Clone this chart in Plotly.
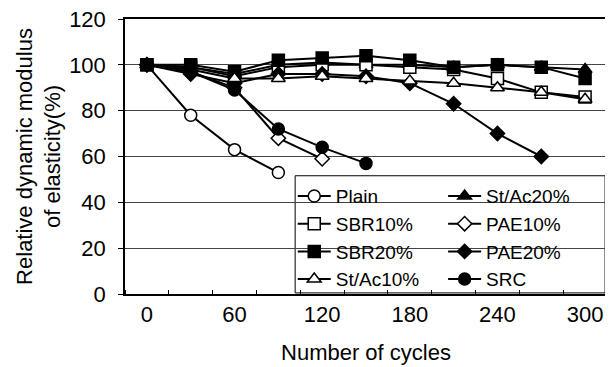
import plotly.graph_objects as go

cycles = [0, 30, 60, 90, 120, 150, 180, 210, 240, 270, 300]

plain = [100, 78, 63, 53]
st_ac20 = [100, 99, 96, 100, 101, 100, 100, 99, 100, 99, 98]
sbr10 = [100, 99, 95, 99, 100, 100, 99, 98, 94, 88, 86]
pae10 = [100, 97, 90, 68, 59]
sbr20 = [100, 100, 97, 102, 103, 104, 102, 99, 100, 99, 94]
pae20 = [100, 96, 92, 96, 96, 95, 92, 83, 70, 60]
st_ac10 = [100, 98, 94, 94, 95, 94, 93, 92, 90, 88, 85]
src = [100, 97, 89, 72, 64, 57]

# (name, values, symbol, fill, size, legend column)
series = [
    ("Plain", plain, "circle", "white", 12, "legend"),
    ("St/Ac20%", st_ac20, "triangle-up", "black", 12, "legend2"),
    ("SBR10%", sbr10, "square", "white", 12, "legend"),
    ("PAE10%", pae10, "diamond", "white", 11, "legend2"),
    ("SBR20%", sbr20, "square", "black", 12, "legend"),
    ("PAE20%", pae20, "diamond", "black", 11, "legend2"),
    ("St/Ac10%", st_ac10, "triangle-up", "white", 12, "legend"),
    ("SRC", src, "circle", "black", 12, "legend2"),
]

fig = go.Figure()
for name, vals, sym, fill, size, leg in series:
    fig.add_trace(go.Scatter(
        x=cycles[:len(vals)], y=vals, name=name, mode="lines+markers",
        line=dict(color="black", width=2), legend=leg,
        marker=dict(symbol=sym, color=fill, size=size,
                    line=dict(color="black", width=1.5)),
    ))

font = "Liberation Sans, Arial, sans-serif"
leg_common = dict(
    orientation="v", yanchor="top", y=0.425, xanchor="left",
    bgcolor="rgba(0,0,0,0)", borderwidth=0, font=dict(size=19),
    tracegroupgap=0, itemwidth=33,
)
# the page body adds an 8px margin, so the figure is 8px smaller than the window
fig.update_layout(
    width=605, height=359,
    margin=dict(l=117, r=6, t=11, b=73),
    paper_bgcolor="white", plot_bgcolor="white",
    font=dict(family=font, size=22, color="black"),
    showlegend=True,
    legend=dict(x=0.348, **leg_common),
    legend2=dict(x=0.66, **leg_common),
    shapes=[dict(type="rect", xref="paper", yref="paper",
                 x0=0.353, x1=0.996, y0=0.004, y1=0.43,
                 line=dict(color="black", width=1), fillcolor="white",
                 layer="between")],
    xaxis=dict(
        range=[-15, 315], tickvals=[0, 60, 120, 180, 240, 300],
        ticks="", showgrid=False, zeroline=False, automargin=False,
        showline=True, linecolor="black", linewidth=1.5, mirror=True,
        minor=dict(tick0=15, dtick=30, ticks="inside", ticklen=4,
                   tickcolor="black", showgrid=False),
        tickfont=dict(size=22), ticklabeloverflow="allow",
        title=dict(text="Number of cycles", font=dict(size=22), standoff=18),
    ),
    yaxis=dict(
        range=[0, 120], tickvals=[0, 20, 40, 60, 80, 100, 120],
        ticks="outside", ticklen=5, tickcolor="black", automargin=False,
        showgrid=True, gridcolor="#444", gridwidth=1, zeroline=False,
        showline=True, linecolor="black", linewidth=1.5, mirror=True,
        tickfont=dict(size=22), ticklabelstandoff=8,
        ticklabeloverflow="allow",
        title=dict(text="Relative dynamic modulus<br>of elasticity(%)",
                   font=dict(size=22), standoff=2),
    ),
)

fig.write_html("out.html")
